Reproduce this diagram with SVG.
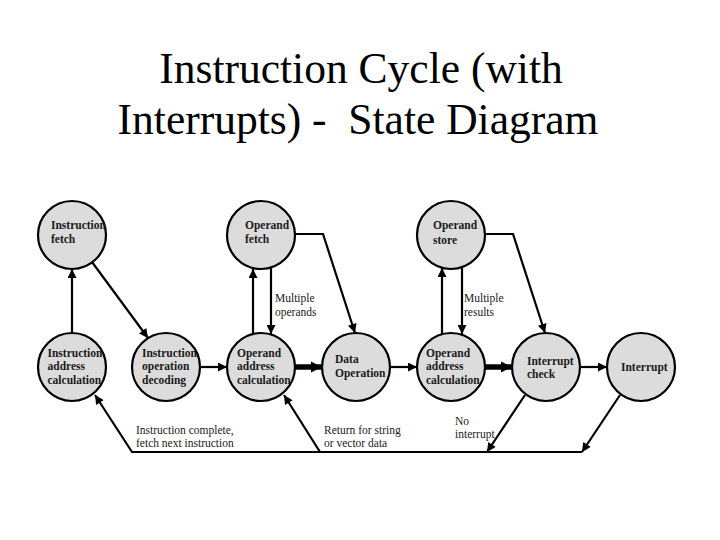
<svg xmlns="http://www.w3.org/2000/svg" width="720" height="540" viewBox="0 0 720 540">
<style>
.title{font-size:43.5px;fill:#000}
.state{fill:#dcdcdc;stroke:#000;stroke-width:2.2}
.nt{font-size:11.5px;font-weight:bold;fill:#1a1a1a}
.lb{font-size:11.5px;fill:#1a1a1a}
.c{fill:none;stroke:#000;stroke-width:2.2}
.ck{fill:none;stroke:#000;stroke-width:5.5}
</style>
<defs>
<marker id="ah" viewBox="0 0 10 10" markerUnits="userSpaceOnUse" markerWidth="11" markerHeight="9" refX="10" refY="5" orient="auto">
<path d="M0,0 L10,5 L0,10 z" fill="#000"/>
</marker>
<marker id="ahk" viewBox="0 0 10 10" markerUnits="userSpaceOnUse" markerWidth="11" markerHeight="13" refX="10" refY="5" orient="auto">
<path d="M0,0 L10,5 L0,10 z" fill="#000"/>
</marker>
</defs>
<rect width="720" height="540" fill="#fff"/>
<text class="title" font-family="Liberation Serif" x="361" y="83" text-anchor="middle">Instruction Cycle (with</text>
<text class="title" font-family="Liberation Serif" x="358" y="134" text-anchor="middle" xml:space="preserve">Interrupts) -  State Diagram</text>

<g id="connectors">
<path class="c" d="M72,333 L72,269" marker-end="url(#ah)"/>
<path class="c" d="M92,262 L148,338" marker-end="url(#ah)"/>
<path class="c" d="M200,367 L227,367" marker-end="url(#ah)"/>
<path class="c" d="M253,334 L253,269" marker-end="url(#ah)"/>
<path class="c" d="M271,268 L271,334" marker-end="url(#ah)"/>
<path class="c" d="M295,234 L323,234 L355,333" marker-end="url(#ah)"/>
<path class="ck" d="M295,367 L322,367" marker-end="url(#ahk)"/>
<path class="c" d="M390,367 L417,367" marker-end="url(#ah)"/>
<path class="c" d="M442,334 L442,268" marker-end="url(#ah)"/>
<path class="c" d="M462,268 L462,334" marker-end="url(#ah)"/>
<path class="c" d="M485,234 L513,234 L545,333" marker-end="url(#ah)"/>
<path class="ck" d="M485,367 L512,367" marker-end="url(#ahk)"/>
<path class="c" d="M580,367 L607,367" marker-end="url(#ah)"/>
<path class="c" d="M525,395 L487,452" marker-end="url(#ah)"/>
<path class="c" d="M620,395 L582,452" marker-end="url(#ah)"/>
<path class="c" d="M582,452 L132,452 L95,395" marker-end="url(#ah)"/>
<path class="c" d="M320,452 L284,395" marker-end="url(#ah)"/>
<text class="lb" font-family="Liberation Serif" x="275" y="302">Multiple</text>
<text class="lb" font-family="Liberation Serif" x="275" y="316">operands</text>
<text class="lb" font-family="Liberation Serif" x="464" y="302">Multiple</text>
<text class="lb" font-family="Liberation Serif" x="464" y="316">results</text>
<text class="lb" font-family="Liberation Serif" x="136" y="434">Instruction complete,</text>
<text class="lb" font-family="Liberation Serif" x="136" y="447">fetch next instruction</text>
<text class="lb" font-family="Liberation Serif" x="324" y="434">Return for string</text>
<text class="lb" font-family="Liberation Serif" x="324" y="447">or vector data</text>
<text class="lb" font-family="Liberation Serif" x="455" y="425">No</text>
<text class="lb" font-family="Liberation Serif" x="455" y="438">interrupt</text>
</g>

<g id="instruction-fetch">
<circle class="state" cx="72" cy="235" r="34"/>
<text class="nt" font-family="Liberation Serif" x="51" y="229">Instruction</text>
<text class="nt" font-family="Liberation Serif" x="51" y="243">fetch</text>
</g>
<g id="operand-fetch">
<circle class="state" cx="261" cy="235" r="34"/>
<text class="nt" font-family="Liberation Serif" x="245" y="229">Operand</text>
<text class="nt" font-family="Liberation Serif" x="245" y="243">fetch</text>
</g>
<g id="operand-store">
<circle class="state" cx="451" cy="235" r="34"/>
<text class="nt" font-family="Liberation Serif" x="433" y="229">Operand</text>
<text class="nt" font-family="Liberation Serif" x="433" y="244">store</text>
</g>
<g id="instruction-address-calculation">
<circle class="state" cx="72" cy="367" r="34"/>
<text class="nt" font-family="Liberation Serif" x="47.5" y="356.5">Instruction</text>
<text class="nt" font-family="Liberation Serif" x="47.5" y="370">address</text>
<text class="nt" font-family="Liberation Serif" x="47.5" y="384">calculation</text>
</g>
<g id="instruction-operation-decoding">
<circle class="state" cx="166" cy="367" r="34"/>
<text class="nt" font-family="Liberation Serif" x="142" y="356.5">Instruction</text>
<text class="nt" font-family="Liberation Serif" x="142" y="370">operation</text>
<text class="nt" font-family="Liberation Serif" x="142" y="384">decoding</text>
</g>
<g id="operand-address-calculation-1">
<circle class="state" cx="261" cy="367" r="34"/>
<text class="nt" font-family="Liberation Serif" x="237" y="356.5">Operand</text>
<text class="nt" font-family="Liberation Serif" x="237" y="370">address</text>
<text class="nt" font-family="Liberation Serif" x="237" y="384">calculation</text>
</g>
<g id="data-operation">
<circle class="state" cx="356" cy="367" r="34"/>
<text class="nt" font-family="Liberation Serif" x="335" y="363">Data</text>
<text class="nt" font-family="Liberation Serif" x="335" y="377">Operation</text>
</g>
<g id="operand-address-calculation-2">
<circle class="state" cx="451" cy="367" r="34"/>
<text class="nt" font-family="Liberation Serif" x="426" y="356.5">Operand</text>
<text class="nt" font-family="Liberation Serif" x="426" y="370">address</text>
<text class="nt" font-family="Liberation Serif" x="426" y="384">calculation</text>
</g>
<g id="interrupt-check">
<circle class="state" cx="546" cy="367" r="34"/>
<text class="nt" font-family="Liberation Serif" x="527" y="365">Interrupt</text>
<text class="nt" font-family="Liberation Serif" x="527" y="378">check</text>
</g>
<g id="interrupt">
<circle class="state" cx="641" cy="367" r="34"/>
<text class="nt" font-family="Liberation Serif" x="621" y="371">Interrupt</text>
</g>
</svg>
